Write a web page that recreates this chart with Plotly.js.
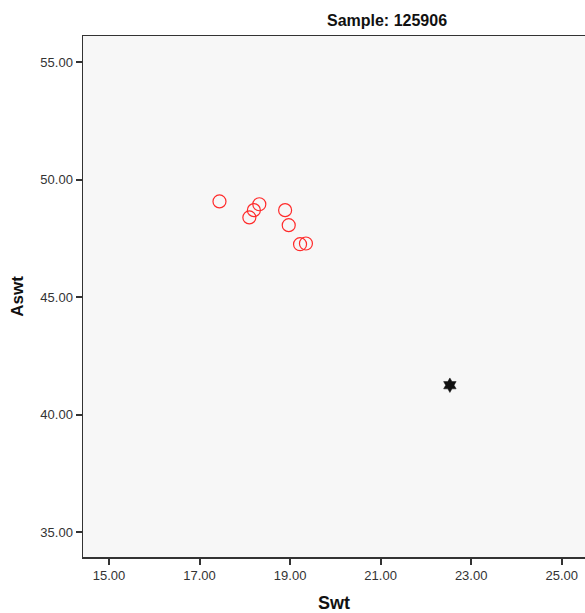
<!DOCTYPE html>
<html>
<head>
<meta charset="utf-8">
<script src="https://cdn.plot.ly/plotly-3.0.1.min.js"></script>
<style>html,body{margin:0;padding:0;background:#fff;}#chart{width:585px;height:613px;}</style>
</head>
<body>
<div id="chart"></div>
<script>
// Sample points (red open circles)
const swt = [17.44, 18.10, 18.20, 18.32, 18.89, 18.97, 19.22, 19.35];
const aswt = [49.08, 48.40, 48.71, 48.96, 48.71, 48.07, 47.26, 47.29];
// Outlier / centroid point (black star)
const starSwt = [22.53];
const starAswt = [41.26];
const xTicks = [15, 17, 19, 21, 23, 25];
const yTicks = [35, 40, 45, 50, 55];
const chartTitle = "Sample: 125906";

const traces = [
  {
    x: swt, y: aswt, type: "scatter", mode: "markers",
    marker: {symbol: "circle-open", size: 13, color: "#ff2a2a", line: {width: 1.2, color: "#ff2a2a"}},
    hoverinfo: "x+y", showlegend: false
  },
  {
    x: starSwt, y: starAswt, type: "scatter", mode: "markers",
    marker: {symbol: "hexagram", size: 11, color: "#111111", line: {width: 0.5, color: "#111111"}},
    showlegend: false
  }
];

const tickFont = {family: "Liberation Sans, Arial, sans-serif", size: 13, color: "#333"};
const layout = {
  width: 585, height: 613,
  margin: {l: 83, r: 0, t: 36, b: 56},
  paper_bgcolor: "#ffffff",
  plot_bgcolor: "#f7f7f7",
  title: {
    text: "<b>" + chartTitle + "</b>",
    font: {family: "Liberation Sans, Arial, sans-serif", size: 16, color: "#111"},
    x: 387 / 585, xref: "container", xanchor: "center",
    y: 1 - 20 / 613, yref: "container", yanchor: "middle"
  },
  xaxis: {
    range: [14.425, 25.515],
    tickvals: xTicks,
    ticktext: xTicks.map(v => v.toFixed(2)),
    ticks: "outside", ticklen: 6, tickwidth: 2, tickcolor: "#333",
    showgrid: false, zeroline: false,
    showline: true, linecolor: "#333", linewidth: 1.5, mirror: true,
    tickfont: tickFont,
    title: {text: "<b>Swt</b>", font: {family: "Liberation Sans, Arial, sans-serif", size: 18, color: "#111"}, standoff: 14}
  },
  yaxis: {
    range: [33.95, 56.12],
    tickvals: yTicks,
    ticktext: yTicks.map(v => v.toFixed(2)),
    ticks: "outside", ticklen: 6, tickwidth: 2, tickcolor: "#333",
    showgrid: false, zeroline: false,
    showline: true, linecolor: "#333", linewidth: 1.5, mirror: true,
    tickfont: tickFont,
    title: {text: "<b>Aswt</b>", font: {family: "Liberation Sans, Arial, sans-serif", size: 17, color: "#111"}, standoff: 12}
  }
};

Plotly.newPlot("chart", traces, layout, {displayModeBar: false, staticPlot: true});
</script>
</body>
</html>
